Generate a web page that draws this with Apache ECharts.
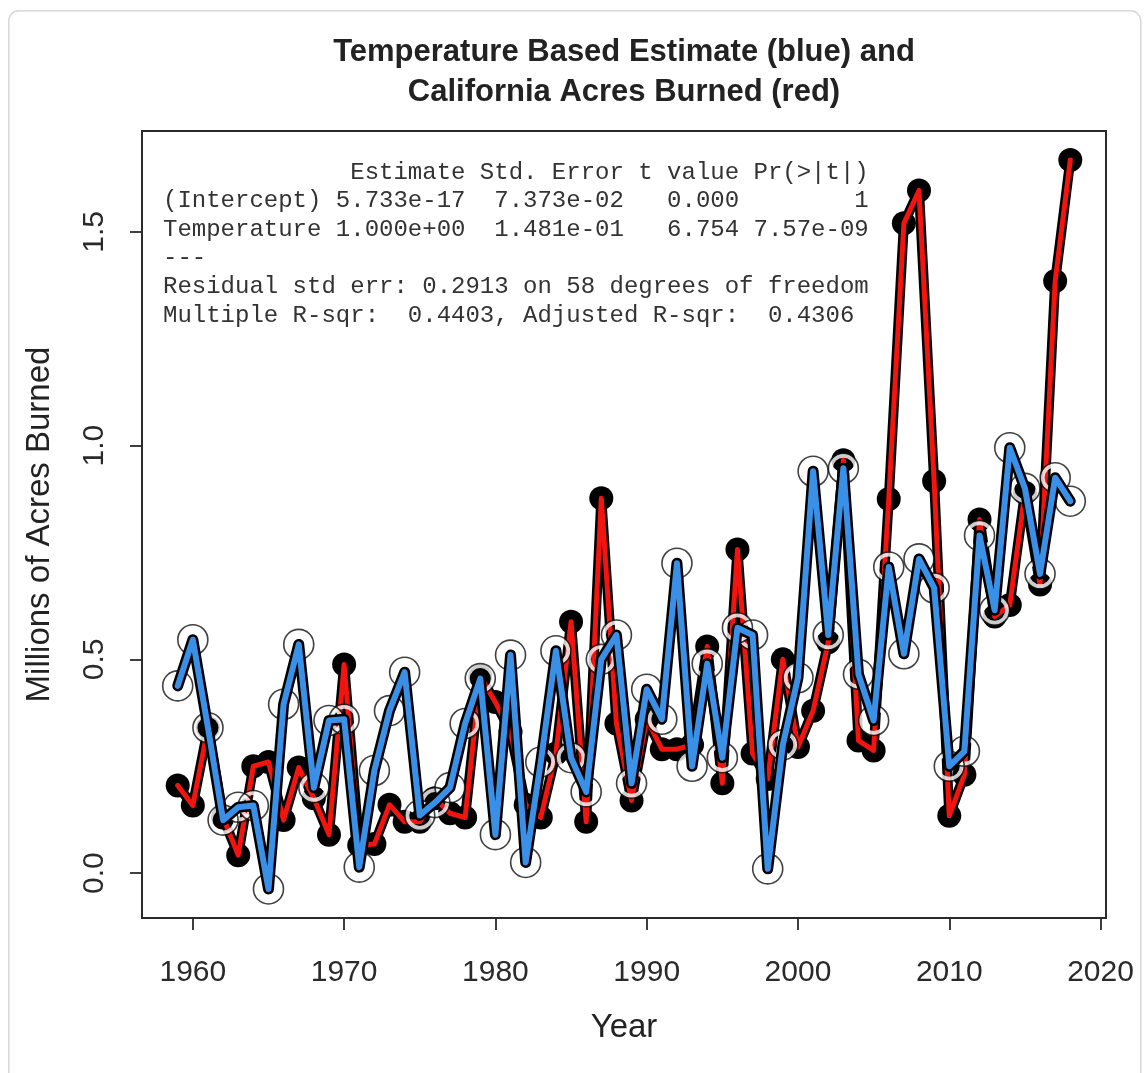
<!DOCTYPE html>
<html>
<head>
<meta charset="utf-8">
<script src="https://cdn.jsdelivr.net/npm/echarts@6/dist/echarts.min.js"></script>
<style>
html,body{margin:0;padding:0;background:#fff;}
#chart{width:1146px;height:1073px;}
</style>
</head>
<body>
<div id="chart"></div>
<script>
// ---- Data ----
const years = [1959,1960,1961,1962,1963,1964,1965,1966,1967,1968,1969,
  1970,1971,1972,1973,1974,1975,1976,1977,1978,1979,
  1980,1981,1982,1983,1984,1985,1986,1987,1988,1989,
  1990,1991,1992,1993,1994,1995,1996,1997,1998,1999,
  2000,2001,2002,2003,2004,2005,2006,2007,2008,2009,
  2010,2011,2012,2013,2014,2015,2016,2017,2018];

// California acres burned (millions) - red series
const acresBurned = [0.205,0.158,0.34,0.13,0.042,0.25,0.26,0.124,0.247,0.175,0.09,
  0.488,0.065,0.068,0.16,0.12,0.12,0.175,0.14,0.13,0.46,
  0.40,0.33,0.16,0.13,0.28,0.588,0.12,0.877,0.35,0.17,
  0.36,0.29,0.29,0.30,0.53,0.21,0.757,0.28,0.22,0.50,
  0.295,0.38,0.54,0.966,0.31,0.287,0.875,1.52,1.597,0.917,
  0.134,0.23,0.827,0.60,0.627,0.89,0.675,1.385,1.668];

// Temperature based estimate (millions) - blue series
const temperatureEstimate = [0.438,0.546,0.34,0.124,0.154,0.158,-0.037,0.395,0.535,0.20,0.357,
  0.36,0.014,0.24,0.38,0.47,0.135,0.165,0.20,0.35,0.455,
  0.09,0.51,0.025,0.26,0.52,0.27,0.19,0.50,0.557,0.21,
  0.43,0.36,0.725,0.25,0.49,0.27,0.574,0.557,0.01,0.30,
  0.457,0.94,0.557,0.947,0.465,0.357,0.716,0.513,0.735,0.667,
  0.25,0.285,0.79,0.615,0.995,0.90,0.70,0.925,0.87];

const xTicks = [1960,1970,1980,1990,2000,2010,2020];
const yTicks = [0.0,0.5,1.0,1.5];

const titleLines = ['Temperature Based Estimate (blue) and', 'California Acres Burned (red)'];
const xAxisTitle = 'Year';
const yAxisTitle = 'Millions of Acres Burned';
const regressionLines = [
  '             Estimate Std. Error t value Pr(>|t|)',
  '(Intercept) 5.733e-17  7.373e-02   0.000        1',
  'Temperature 1.000e+00  1.481e-01   6.754 7.57e-09',
  '---',
  'Residual std err: 0.2913 on 58 degrees of freedom',
  'Multiple R-sqr:  0.4403, Adjusted R-sqr:  0.4306'
];

// ---- Build chart ----
const redPts = years.map((y, i) => [y, acresBurned[i]]);
const bluePts = years.map((y, i) => [y, temperatureEstimate[i]]);

const chart = echarts.init(document.getElementById('chart'), null, {renderer: 'canvas'});

const RED = '#f2140f';
const BLUE = '#3a8fe6';
const AXIS = '#2a2a2a';
const FONT = '"Liberation Sans", Arial, Helvetica, sans-serif';

const option = {
  animation: false,
  backgroundColor: '#ffffff',
  grid: {left: 142, top: 131, width: 964, height: 787, show: true,
    borderColor: AXIS, borderWidth: 2, backgroundColor: 'transparent'},
  xAxis: {
    type: 'value', min: 1956.64, max: 2020.36, position: 'bottom',
    name: xAxisTitle, nameLocation: 'middle', nameGap: 93,
    nameTextStyle: {fontFamily: FONT, fontSize: 33, color: '#222'},
    axisLine: {show: false, onZero: false},
    splitLine: {show: false},
    axisTick: {show: true, inside: false, customValues: xTicks, length: 12, lineStyle: {color: AXIS, width: 1.8}},
    axisLabel: {customValues: xTicks, margin: 40, fontFamily: FONT, fontSize: 30, color: '#2a2a2a',
      formatter: v => String(v)}
  },
  yAxis: {
    type: 'value', min: -0.105, max: 1.736, position: 'left',
    name: yAxisTitle, nameLocation: 'middle', nameGap: 86,
    nameTextStyle: {fontFamily: FONT, fontSize: 33, color: '#222'},
    axisLine: {show: false, onZero: false},
    splitLine: {show: false},
    axisTick: {show: true, inside: false, customValues: yTicks, length: 12, lineStyle: {color: AXIS, width: 1.8}},
    axisLabel: {customValues: yTicks, rotate: 90, margin: 32, fontFamily: FONT, fontSize: 30, color: '#2a2a2a',
      formatter: v => Number(v).toFixed(1)}
  },
  graphic: [
    {type: 'rect', left: 8, top: 10, z: -10, silent: true,
      shape: {width: 1132, height: 1080, r: 10},
      style: {fill: '#fff', stroke: '#d8d8d8', lineWidth: 1.5}},
    {type: 'text', x: 624, y: 52, z: 10,
      style: {text: titleLines[0], font: 'bold 31px ' + FONT, fill: '#222', align: 'center', verticalAlign: 'middle'}},
    {type: 'text', x: 624, y: 92, z: 10,
      style: {text: titleLines[1], font: 'bold 31px ' + FONT, fill: '#222', align: 'center', verticalAlign: 'middle'}},
    {type: 'text', x: 163, y: 158, z: 10,
      style: {text: regressionLines.join('\n'), font: '24px "Liberation Mono", "DejaVu Sans Mono", monospace',
        lineHeight: 28.6, fill: '#333', align: 'left', verticalAlign: 'top'}}
  ],
  series: [
    // red: black points, then outlined red line on top
    {type: 'scatter', data: redPts, symbol: 'circle', symbolSize: 24, z: 2,
      itemStyle: {color: '#000', opacity: 1}},
    {type: 'line', data: redPts, showSymbol: false, z: 3,
      lineStyle: {color: '#000', width: 10, join: 'round', cap: 'round'}},
    {type: 'line', data: redPts, showSymbol: false, z: 4,
      lineStyle: {color: RED, width: 5, join: 'round', cap: 'round'}},
    // blue: open circles, then outlined blue line on top
    {type: 'scatter', data: bluePts, symbol: 'circle', symbolSize: 25, z: 5,
      itemStyle: {color: 'rgba(255,255,255,0)', borderColor: '#ffffff', borderWidth: 4}},
    {type: 'scatter', data: bluePts, symbol: 'circle', symbolSize: 30, z: 6,
      itemStyle: {color: 'rgba(255,255,255,0)', borderColor: '#111', borderWidth: 1.6}},
    {type: 'line', data: bluePts, showSymbol: false, z: 7,
      lineStyle: {color: '#000', width: 11, join: 'round', cap: 'round'}},
    {type: 'line', data: bluePts, showSymbol: false, z: 8,
      lineStyle: {color: BLUE, width: 6, join: 'round', cap: 'round'}}
  ]
};
chart.setOption(option);
</script>
</body>
</html>
